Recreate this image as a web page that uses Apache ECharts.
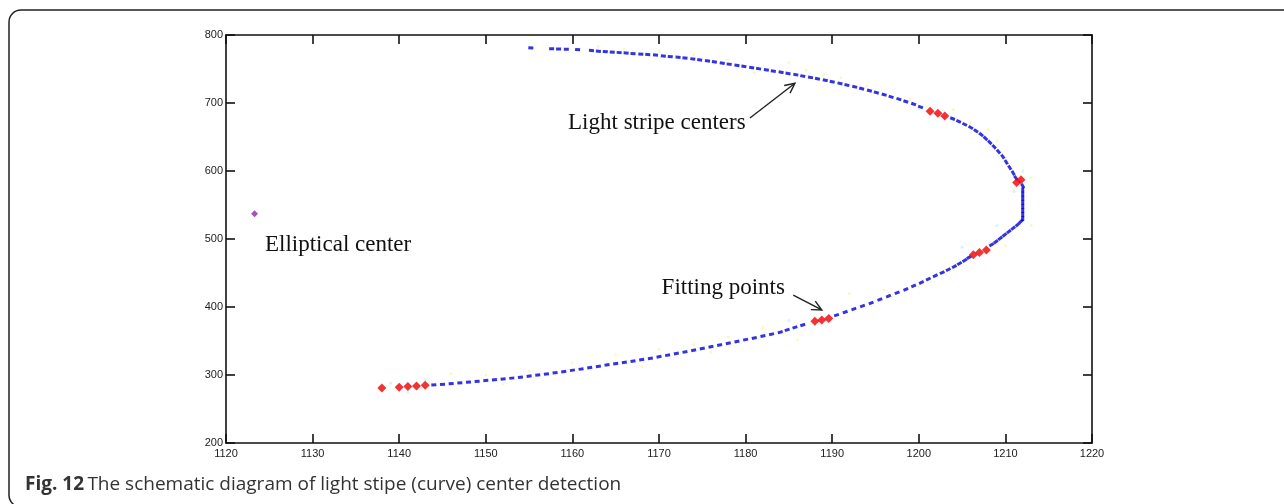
<!DOCTYPE html>
<html><head><meta charset="utf-8">
<script src="https://cdn.jsdelivr.net/npm/echarts@6/dist/echarts.min.js"></script>
<style>html,body{margin:0;padding:0;background:#fff}#c{width:1284px;height:504px}</style>
</head><body><div id="c"></div>
<script>
// ---- data ----
const xTickValues = [1120,1130,1140,1150,1160,1170,1180,1190,1200,1210,1220];
const yTickValues = [200,300,400,500,600,700,800];

const upperCenters = [
 [1155.2,781],[1157.6,779.8],[1158.4,779.4],[1159.3,779],[1160.6,778.4],[1162.2,777.2],[1163.0,776.2],[1163.8,775.6],
 [1164.6,774.9],[1165.4,774.2],[1166.2,773.5],[1167.0,772.6],[1167.9,772],[1168.7,771.3],[1169.6,770.5],[1170.5,769.2],
 [1171.3,768.2],[1172.2,767.3],[1173.0,766.2],[1173.9,764.8],[1174.7,763.4],[1175.6,762],[1176.4,760.4],[1177.3,758.6],
 [1178.1,757],[1179.0,755.4],[1179.8,753.8],[1180.7,752],[1181.5,750.4],[1182.4,748.6],[1183.2,747],[1184.1,745.2],
 [1184.9,743.4],[1185.8,741.6],[1186.6,739.6],[1187.5,737.6],[1188.3,735.6],[1189.2,733.4],[1190.0,731.2],[1190.9,728.8],
 [1191.7,726.4],[1192.6,723.8],[1193.4,721.2],[1194.3,718.2],[1195.1,715.4],[1196.0,712.2],[1196.8,709],[1197.7,705.6],
 [1198.5,702.2],[1199.4,698.4],[1200.2,694.2],[1203.9,677],[1204.6,673],[1205.3,668.6],[1206.0,664],[1206.6,659],
 [1207.2,653.6],[1207.7,648],[1208.2,642],[1208.7,635.6],[1209.2,628.6],[1209.7,621],[1210.1,613],[1210.5,605],
 [1210.9,597],[1211.2,590],[1212,578],[1212,572],[1212,566],[1212,560],[1212,554],[1212,548],[1212,542],[1212,536],[1212,530]
];
const lowerCenters = [
 [1211.8,526],[1211.4,521],[1210.9,516],[1210.4,511],[1209.9,506],[1209.4,501],[1208.9,496],[1208.4,491.5],
 [1205.8,473],[1205.3,468.5],[1204.7,464],[1204.1,459.5],[1203.4,455],[1202.7,450.5],[1201.9,446],[1201.1,441],
 [1200.3,436],[1199.4,431],[1198.5,426],[1197.5,421],[1196.5,416],[1195.5,411],[1194.5,406],[1193.5,401.5],
 [1192.5,397],[1191.5,392.5],[1190.5,388],[1186.6,373.5],[1185.7,370],[1184.8,366.4],[1184,363],[1183,360],
 [1182,357.3],[1181,354.5],[1180,352],[1179,349.3],[1178,346.6],[1177,344],[1176,341.5],[1175,339],[1174,336.5],
 [1173,334],[1172,331.6],[1171,329.2],[1170,326.8],[1169,324.5],[1168,322.5],[1167,320.5],[1166,318.5],[1165,316.6],
 [1164,314.8],[1163,312.8],[1162,310.8],[1161,308.8],[1160,307],[1159,305],[1158,303.3],[1157,301.5],[1156,300],
 [1155,298.3],[1154,296.8],[1153,295.4],[1152,294.2],[1151,293],[1150,291.8],[1149,290.6],[1148,289.5],[1147,288.4],
 [1146,287.3],[1145,286.3],[1144,285.4]
];
const fittingPoints = [
 [1138,281],[1140,282],[1141,283],[1142,284],[1143,285],
 [1188,379],[1188.8,381],[1189.6,383],
 [1206.3,477],[1207,480],[1207.8,484],
 [1211.3,583],[1211.8,587],
 [1201.3,688],[1202.2,685],[1203,681]
];
const ellipticalCenter = [[1123.3,537]];
const yellowNoise = [
 [1163,783],[1166,779],[1170,776],[1174,771],[1178,764],[1181,745],[1185,760],[1187,748],[1191,737],
 [1194,725],[1196,712],[1199,706],[1204,690],[1206,670],[1208,661],[1209,644],[1213,590],[1213,520],
 [1210,490],[1200,430],[1196,425],[1192,420],[1182,370],[1178,356],[1174,345],[1170,338],[1165,330],
 [1160,318],[1155,306],[1150,300],[1146,302],[1152,287],[1168,312],[1176,334],[1186,352],[1189,742]
];
const cyanNoise = [
 [1212,600],[1211,570],[1205,488],[1185,380],[1143,293],[1141,275],[1139,288],[1200,692],[1209,520]
];

// ---- chart ----
const XMIN = 1120, XMAX = 1220, YMIN = 200, YMAX = 800;
const PX_PER_X = 866 / (XMAX - XMIN), PX_PER_Y = 408 / (YMAX - YMIN);
function withRotation(pts){
  return pts.map((p,i)=>{
    const a = pts[Math.max(0,i-1)], b = pts[Math.min(pts.length-1,i+1)];
    const ang = Math.atan2((b[1]-a[1])*PX_PER_Y, (b[0]-a[0])*PX_PER_X) * 180 / Math.PI;
    return { value: p, symbolRotate: ang };
  });
}
const chart = echarts.init(document.getElementById('c'), null, {renderer:'canvas'});
const axisFont = { fontFamily: 'Liberation Sans, Arial, sans-serif', fontSize: 11, color: '#222', formatter: v => String(v) };
const axisLineStyle = { color: '#111', width: 1.6 };
chart.setOption({
  animation: false,
  backgroundColor: '#fff',
  grid: { left: 226, right: 192, top: 35, bottom: 61, containLabel: false },
  xAxis: [
    { type:'value', min:XMIN, max:XMAX, interval:10, position:'bottom',
      axisLine:{show:true, lineStyle:axisLineStyle}, axisTick:{show:true, inside:true, length:9, lineStyle:axisLineStyle},
      axisLabel:Object.assign({margin:5}, axisFont), splitLine:{show:false} },
    { type:'value', min:XMIN, max:XMAX, interval:10, position:'top',
      axisLine:{show:true, lineStyle:axisLineStyle}, axisTick:{show:true, inside:true, length:9, lineStyle:axisLineStyle},
      axisLabel:{show:false}, splitLine:{show:false} }
  ],
  yAxis: [
    { type:'value', min:YMIN, max:YMAX, interval:100, position:'left',
      axisLine:{show:true, lineStyle:axisLineStyle}, axisTick:{show:true, inside:true, length:9, lineStyle:axisLineStyle},
      axisLabel:Object.assign({margin:3}, axisFont), splitLine:{show:false} },
    { type:'value', min:YMIN, max:YMAX, interval:100, position:'right',
      axisLine:{show:true, lineStyle:axisLineStyle}, axisTick:{show:true, inside:true, length:9, lineStyle:axisLineStyle},
      axisLabel:{show:false}, splitLine:{show:false} }
  ],
  series: [
    { type:'scatter', name:'noise-y', data:yellowNoise, symbol:'circle', symbolSize:3,
      itemStyle:{color:'rgba(245,240,130,0.6)'}, z:1, silent:true },
    { type:'scatter', name:'noise-c', data:cyanNoise, symbol:'circle', symbolSize:3,
      itemStyle:{color:'rgba(160,235,245,0.6)'}, z:1, silent:true },
    { type:'scatter', name:'Light stripe centers', data:withRotation(upperCenters), symbol:'rect', symbolSize:[5,3],
      itemStyle:{color:'#0000d8'}, z:3 },
    { type:'scatter', name:'Light stripe centers', data:withRotation(lowerCenters), symbol:'rect', symbolSize:[5,3],
      itemStyle:{color:'#0000d8'}, z:3 },
    { type:'scatter', name:'Fitting points', data:fittingPoints, symbol:'diamond', symbolSize:9,
      itemStyle:{color:'#f00000'}, z:4 },
    { type:'scatter', name:'Elliptical center', data:ellipticalCenter, symbol:'diamond', symbolSize:7,
      itemStyle:{color:'#8e2a9e'}, z:4 }
  ]
});

// ---- annotations placed in data coordinates ----
const annotations = [
  { text:'Elliptical center', at:[1124.5,491] },
  { text:'Light stripe centers', at:[1159.5,670.6] },
  { text:'Fitting points', at:[1170.3,428] }
];
const arrows = [
  { from:[1180.5,678], to:[1185.7,729] },
  { from:[1185.5,417.6], to:[1188.8,395.6] }
];
const toPx = p => chart.convertToPixel({xAxisIndex:0, yAxisIndex:0}, p);
const g = [];
g.push({ type:'rect', shape:{x:9, y:10, width:1300, height:497, r:12}, style:{fill:null, stroke:'#222', lineWidth:1.5}, z:0, silent:true });
annotations.forEach(a=>{
  const p = toPx(a.at);
  g.push({ type:'text', x:p[0], y:p[1], style:{ text:a.text, font:'23px "Liberation Serif", "Times New Roman", serif', fill:'#111', textVerticalAlign:'middle', textAlign:'left' }, z:10 });
});
arrows.forEach(ar=>{
  const a = toPx(ar.from), b = toPx(ar.to);
  const ang = Math.atan2(b[1]-a[1], b[0]-a[0]);
  const L = 11, spread = 0.45;
  const h1 = [b[0]-L*Math.cos(ang-spread), b[1]-L*Math.sin(ang-spread)];
  const h2 = [b[0]-L*Math.cos(ang+spread), b[1]-L*Math.sin(ang+spread)];
  g.push({ type:'line', shape:{x1:a[0],y1:a[1],x2:b[0],y2:b[1]}, style:{stroke:'#222', lineWidth:1.4}, z:10 });
  g.push({ type:'polyline', shape:{points:[h1,b,h2]}, style:{stroke:'#222', lineWidth:1.4, fill:null}, z:10 });
});
g.push({ type:'text', x:25, y:485, style:{
  text:'{b|Fig. 12} {r|The schematic diagram of light stipe (curve) center detection}',
  textVerticalAlign:'middle',
  rich:{ b:{ font:'bold 19px "Open Sans", "Noto Sans", sans-serif', fill:'#333' },
         r:{ font:'19px "Open Sans", "Noto Sans", sans-serif', fill:'#333' } } }, z:10 });
chart.setOption({ graphic: g });
</script></body></html>
